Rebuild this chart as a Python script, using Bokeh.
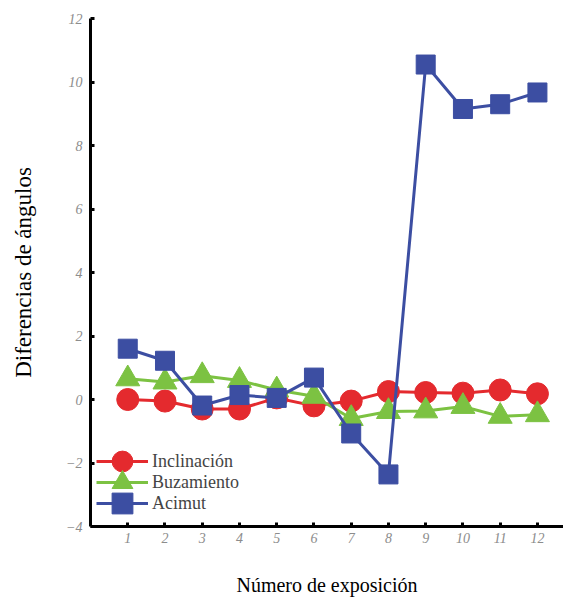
from bokeh.plotting import figure
from bokeh.models import Legend, LegendItem, FixedTicker, Range1d
from bokeh.embed import file_html
from bokeh.resources import INLINE

exposicion = [1, 2, 3, 4, 5, 6, 7, 8, 9, 10, 11, 12]
inclinacion = [0.0, -0.05, -0.3, -0.3, 0.05, -0.2, -0.05, 0.25, 0.22, 0.2, 0.3, 0.18]
buzamiento = [0.65, 0.55, 0.75, 0.6, 0.3, 0.1, -0.6, -0.38, -0.36, -0.22, -0.53, -0.48]
acimut = [1.6, 1.22, -0.19, 0.14, 0.05, 0.69, -1.07, -2.36, 10.55, 9.15, 9.3, 9.67]
y_ticks = [-4, -2, 0, 2, 4, 6, 8, 10, 12]
series_names = ["Inclinación", "Buzamiento", "Acimut"]

RED = "#e42a2e"
GREEN = "#7cc242"
BLUE = "#3c4ea2"
FONT = "Liberation Serif"

p = figure(width=563, height=599, output_backend="svg", toolbar_location=None,
           x_range=Range1d(0, 12.7), y_range=Range1d(-4, 12),
           min_border_left=90, min_border_right=0, min_border_top=18, min_border_bottom=73)
p.outline_line_color = None
p.xgrid.visible = False
p.ygrid.visible = False

r1 = p.line(exposicion, inclinacion, line_color=RED, line_width=3)
m1 = p.scatter(exposicion, inclinacion, marker="circle", size=22, fill_color=RED, line_color=RED)
r2 = p.line(exposicion, buzamiento, line_color=GREEN, line_width=3)
m2 = p.scatter(exposicion, buzamiento, marker="triangle", size=24, fill_color=GREEN, line_color=GREEN)
r3 = p.line(exposicion, acimut, line_color=BLUE, line_width=3)
m3 = p.scatter(exposicion, acimut, marker="square", size=19, fill_color=BLUE, line_color=BLUE)

for ax in (p.xaxis[0], p.yaxis[0]):
    ax.axis_line_width = 3
    ax.axis_line_color = "black"
    ax.major_tick_in = 4
    ax.major_tick_out = 0
    ax.major_tick_line_width = 3
    ax.minor_tick_line_color = None
    ax.major_label_text_font = FONT
    ax.major_label_text_font_style = "italic"
    ax.major_label_text_color = "#8c8c8c"
    ax.major_label_text_font_size = "14px"
    ax.axis_label_text_font = FONT
    ax.axis_label_text_font_style = "normal"
    ax.axis_label_text_color = "black"

p.xaxis.axis_label_text_font_size = "20px"
p.yaxis.axis_label_text_font_size = "23px"
p.xaxis.ticker = FixedTicker(ticks=exposicion)
p.yaxis.ticker = FixedTicker(ticks=y_ticks)
p.yaxis.major_label_overrides = {t: (str(t) if t >= 0 else "\u2212" + str(-t)) for t in y_ticks}
p.xaxis.axis_label = "Número de exposición"
p.yaxis.axis_label = "Diferencias de ángulos"
p.xaxis.axis_label_standoff = 28
p.yaxis.axis_label_standoff = 27
p.xaxis.major_label_standoff = 6
p.yaxis.major_label_standoff = 8

# one legend per entry, so the rows can sit close together like in the original
rows = [(series_names[0], [r1, m1], 39), (series_names[1], [r2, m2], 18), (series_names[2], [r3, m3], -3)]
for label, rends, off in rows:
    lg = Legend(items=[LegendItem(label=label, renderers=rends)], location=(6, off))
    lg.background_fill_alpha = 0
    lg.border_line_color = None
    lg.label_text_font = FONT
    lg.label_text_font_size = "18px"
    lg.glyph_width = 52
    lg.glyph_height = 52
    lg.padding = 0
    lg.margin = 0
    lg.label_standoff = 4
    lg.label_height = 18
    p.add_layout(lg)

open("out.html", "w").write(file_html(p, INLINE))
